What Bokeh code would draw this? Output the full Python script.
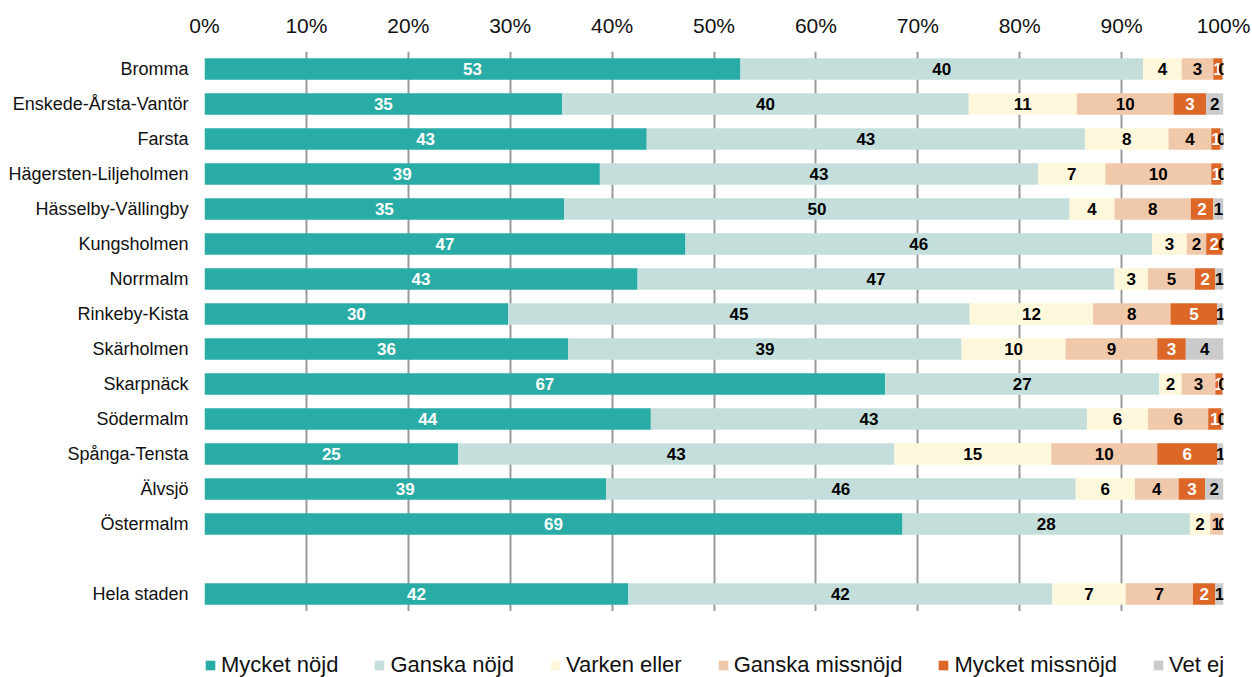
from bokeh.plotting import figure
from bokeh.layouts import column
from bokeh.models import (ColumnDataSource, FactorRange, Range1d, FixedTicker,
                          PrintfTickFormatter, Legend, LegendItem)
from bokeh.core.properties import value
from bokeh.embed import file_html
from bokeh.resources import INLINE

districts = ["Bromma", "Enskede-Årsta-Vantör", "Farsta", "Hägersten-Liljeholmen",
             "Hässelby-Vällingby", "Kungsholmen", "Norrmalm", "Rinkeby-Kista",
             "Skärholmen", "Skarpnäck", "Södermalm", "Spånga-Tensta", "Älvsjö",
             "Östermalm", "Hela staden"]
spacer_row = " "
series = ["Mycket nöjd", "Ganska nöjd", "Varken eller", "Ganska missnöjd",
          "Mycket missnöjd", "Vet ej"]
mycket_nojd = [52.6, 35.1, 43.4, 38.8, 35.3, 47.2, 42.5, 29.8, 35.7, 66.8, 43.8, 24.9, 39.4, 68.5, 41.6]
ganska_nojd = [39.5, 39.9, 43.0, 43.0, 49.6, 45.8, 46.8, 45.3, 38.6, 26.9, 42.8, 42.8, 46.1, 28.2, 41.6]
varken_eller = [3.8, 10.6, 8.2, 6.6, 4.4, 3.4, 3.3, 12.1, 10.2, 2.2, 6.0, 15.4, 5.8, 2.0, 7.2]
ganska_missnojd = [3.1, 9.5, 4.2, 10.4, 7.5, 1.9, 4.6, 7.6, 9.0, 3.3, 5.9, 10.4, 4.3, 1.2, 6.6]
mycket_missnojd = [0.9, 3.2, 0.9, 1.0, 2.2, 1.6, 2.0, 4.6, 2.8, 0.7, 1.3, 5.9, 2.6, 0.0, 2.2]
vet_ej = [0.1, 1.7, 0.3, 0.2, 1.0, 0.1, 0.8, 0.6, 3.7, 0.1, 0.2, 0.6, 1.8, 0.1, 0.8]
x_ticks = [0, 10, 20, 30, 40, 50, 60, 70, 80, 90, 100]

colors = ["#29ACA5", "#C4DFDB", "#FDF8DB", "#F0C9AB", "#DC6726", "#CBCBCB"]
label_colors = ["white", "black", "black", "black", "white", "black"]
values_list = [mycket_nojd, ganska_nojd, varken_eller, ganska_missnojd, mycket_missnojd, vet_ej]
keys = ["s0", "s1", "s2", "s3", "s4", "s5"]

FONT = "Liberation Sans"

order = districts[:-1] + [spacer_row] + districts[-1:]
factors = list(reversed(order))

data = {"cat": districts}
for k, v in zip(keys, values_list):
    data[k] = v
source = ColumnDataSource(data)

p = figure(width=1252, height=611, y_range=FactorRange(factors=factors),
           x_range=Range1d(0, 100), x_axis_location="above",
           output_backend="svg", toolbar_location=None,
           min_border_left=204, min_border_right=29, min_border_top=51,
           min_border_bottom=0)
p.outline_line_color = None

renderers = p.hbar_stack(keys, y="cat", height=0.62, color=colors, source=source,
                         line_color=None)

# labels
for white_pass in (True, False):
    xs, ys, txt = [], [], []
    for i, vals in enumerate(values_list):
        if (label_colors[i] == "white") != white_pass:
            continue
        for j, d in enumerate(districts):
            left = sum(values_list[k][j] for k in range(i))
            xs.append(left + vals[j] / 2.0)
            ys.append(d)
            txt.append(str(int(vals[j] + 0.5)))
    ls = ColumnDataSource(dict(x=xs, y=ys, t=txt))
    p.text(x="x", y="y", text="t", source=ls, text_align="center",
           text_baseline="middle", text_font=value(FONT), text_font_style="bold",
           text_font_size="17px", text_color="white" if white_pass else "black")

# axes
xa = p.xaxis[0]
xa.ticker = FixedTicker(ticks=x_ticks)
xa.formatter = PrintfTickFormatter(format="%d%%")
xa.axis_line_color = None
xa.major_tick_line_color = None
xa.minor_tick_line_color = None
xa.major_tick_out = 0
xa.major_tick_in = 0
xa.major_label_standoff = 15
xa.major_label_text_font = FONT
xa.major_label_text_font_size = "21px"
xa.major_label_text_color = "#111111"

ya = p.yaxis[0]
ya.axis_line_color = None
ya.major_tick_line_color = None
ya.minor_tick_line_color = None
ya.major_tick_out = 0
ya.major_tick_in = 0
ya.major_label_standoff = 16
ya.major_label_text_font = FONT
ya.major_label_text_font_size = "18px"
ya.major_label_text_color = "#111111"

p.xgrid.ticker = FixedTicker(ticks=x_ticks)
p.xgrid.grid_line_color = "#9A9A9A"
p.xgrid.grid_line_width = 2
p.ygrid.grid_line_color = None

# legend strip (separate figure under the chart); zero-width proxy bars
q = figure(width=1252, height=66, x_range=Range1d(0, 1), y_range=Range1d(0, 1),
           x_axis_location=None, y_axis_location=None, output_backend="svg",
           toolbar_location=None, min_border=0)
q.outline_line_color = None
q.xgrid.grid_line_color = None
q.ygrid.grid_line_color = None
legend_renderers = []
for c in colors:
    legend_renderers.append(q.hbar(y=[0.5], right=[0], left=[0], height=0.5,
                                   fill_color=c, line_color=None))

legend = Legend(items=[LegendItem(label=s, renderers=[r])
                       for s, r in zip(series, legend_renderers)],
                orientation="horizontal", location=(0, -1))
legend.label_text_font = FONT
legend.label_text_font_size = "22px"
legend.label_text_color = "#111111"
legend.glyph_width = 12
legend.glyph_height = 12
legend.label_standoff = 5
legend.spacing = 35
legend.padding = 0
legend.margin = 0
legend.background_fill_alpha = 0
legend.border_line_color = None
q.add_layout(legend, "center")

open("out.html", "w").write(file_html(column(p, q, spacing=0), INLINE))
